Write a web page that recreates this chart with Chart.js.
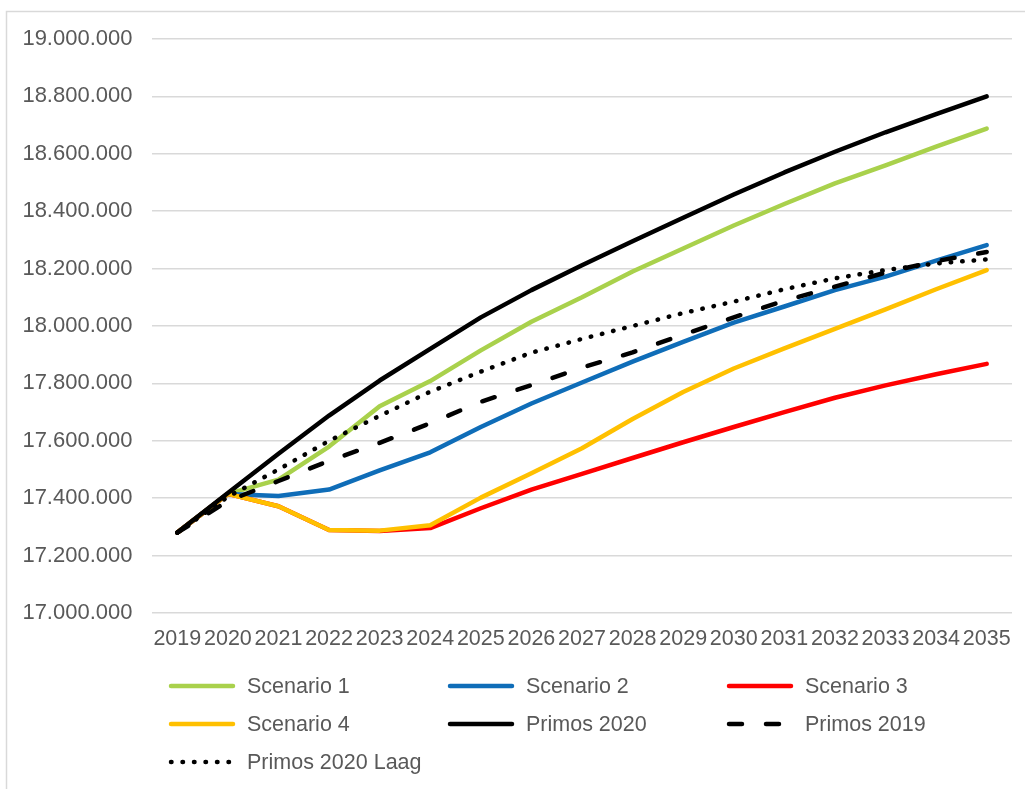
<!DOCTYPE html>
<html>
<head>
<meta charset="utf-8">
<script src="https://cdn.jsdelivr.net/npm/chart.js@4/dist/chart.umd.min.js"></script>
<style>
  html, body { margin: 0; padding: 0; background: #ffffff; }
  #wrap { position: absolute; left: 0; top: 0; width: 1025px; height: 789px; }
</style>
</head>
<body>
<div id="wrap"><canvas id="c" width="1025" height="789"></canvas></div>
<script>
// ---- data ----
const years = ['2019','2020','2021','2022','2023','2024','2025','2026','2027','2028','2029','2030','2031','2032','2033','2034','2035'];
const scenario1 = [17280000,17415000,17465000,17580000,17720000,17808000,17915000,18015000,18100000,18190000,18270000,18350000,18425000,18497000,18560000,18625000,18688000];
const scenario2 = [17280000,17415000,17408000,17430000,17497000,17560000,17648000,17730000,17803000,17876000,17945000,18012000,18068000,18125000,18172000,18228000,18282000];
const scenario3 = [17280000,17415000,17372000,17289000,17286000,17296000,17365000,17430000,17485000,17540000,17595000,17648000,17700000,17750000,17793000,17832000,17868000];
const scenario4 = [17280000,17415000,17372000,17289000,17287000,17306000,17402000,17487000,17574000,17676000,17770000,17852000,17922000,17990000,18058000,18128000,18195000];
const primos2020 = [17280000,17418000,17555000,17688000,17810000,17920000,18030000,18125000,18212000,18295000,18377000,18458000,18535000,18607000,18675000,18738000,18800000];
const primos2019 = [17280000,17390000,17460000,17530000,17593000,17661000,17736000,17794000,17855000,17908000,17970000,18030000,18088000,18137000,18186000,18226000,18258000];
const primos2020Laag = [17280000,17405000,17500000,17600000,17687000,17771000,17841000,17907000,17955000,18000000,18045000,18085000,18128000,18166000,18195000,18218000,18232000];
const seriesNames = ['Scenario 1','Scenario 2','Scenario 3','Scenario 4','Primos 2020','Primos 2019','Primos 2020 Laag'];
const yMin = 17000000, yMax = 19000000, yStep = 200000;

const FONT = '"Liberation Sans", Arial, Helvetica, sans-serif';
const TXT = '#595959';

function fmt(v) {
  return String(Math.round(v)).replace(/\B(?=(\d{3})+(?!\d))/g, '.');
}

const seriesData = [scenario1, scenario2, scenario3, scenario4, primos2020, primos2019, primos2020Laag];
const colors = ['#a9d14c', '#0f6db8', '#ff0000', '#ffc000', '#000000', '#000000', '#000000'];
const dashes = [[], [], [], [], [], [13, 24], [0.5, 11]];

const datasets = seriesData.map((d, i) => ({
  label: seriesNames[i],
  data: d,
  borderColor: colors[i],
  backgroundColor: colors[i],
  borderWidth: 4.5,
  borderDash: dashes[i],
  borderCapStyle: 'round',
  borderJoinStyle: 'round',
  pointRadius: 0,
  pointHoverRadius: 0,
  tension: 0,
  fill: false,
  order: seriesData.length - i
}));

// frame (top and left edge visible) + legend grid
const framePlugin = {
  id: 'frame',
  beforeDraw(chart) {
    const ctx = chart.ctx;
    ctx.save();
    ctx.strokeStyle = '#d9d9d9';
    ctx.lineWidth = 1.5;
    ctx.beginPath();
    ctx.moveTo(6.5, 789);
    ctx.lineTo(6.5, 11.5);
    ctx.lineTo(1025, 11.5);
    ctx.stroke();
    ctx.restore();
  }
};

const gridLegend = {
  id: 'gridLegend',
  afterDraw(chart) {
    const ctx = chart.ctx;
    const colX = [169, 448, 727];
    const rowY = [686, 724, 762];
    const lineLen = 66;
    ctx.save();
    chart.data.datasets.forEach((ds, i) => {
      const x = colX[i % 3];
      const y = rowY[Math.floor(i / 3)];
      ctx.strokeStyle = ds.borderColor;
      ctx.lineWidth = ds.borderWidth;
      ctx.lineCap = 'round';
      ctx.setLineDash(ds.borderDash || []);
      ctx.beginPath();
      ctx.moveTo(x + 2, y);
      ctx.lineTo(x + lineLen - 2, y);
      ctx.stroke();
      ctx.setLineDash([]);
      ctx.fillStyle = TXT;
      ctx.font = '21.5px ' + FONT;
      ctx.textBaseline = 'middle';
      ctx.textAlign = 'left';
      ctx.fillText(ds.label, x + 78, y + 1);
    });
    ctx.restore();
  }
};

new Chart(document.getElementById('c'), {
  type: 'line',
  data: { labels: years, datasets },
  plugins: [framePlugin, gridLegend],
  options: {
    responsive: false,
    animation: false,
    devicePixelRatio: 1,
    layout: { padding: { left: 10, right: 13, top: 39, bottom: 136 } },
    plugins: {
      legend: { display: false },
      tooltip: { enabled: false },
      title: { display: false }
    },
    scales: {
      x: {
        offset: true,
        grid: { display: false, drawTicks: false },
        border: { display: false },
        ticks: {
          autoSkip: false, maxRotation: 0, minRotation: 0,
          color: TXT, padding: 13,
          font: { family: FONT, size: 21.5 }
        },
        afterFit(s) { s.height = 40; }
      },
      y: {
        min: yMin, max: yMax,
        grid: { color: '#d9d9d9', lineWidth: 1.5, drawTicks: false },
        border: { display: false },
        ticks: {
          stepSize: yStep, color: TXT, padding: 19.5,
          font: { family: FONT, size: 22 },
          callback: (v) => fmt(v)
        },
        afterFit(s) { s.width = 142; }
      }
    }
  }
});
</script>
</body>
</html>
